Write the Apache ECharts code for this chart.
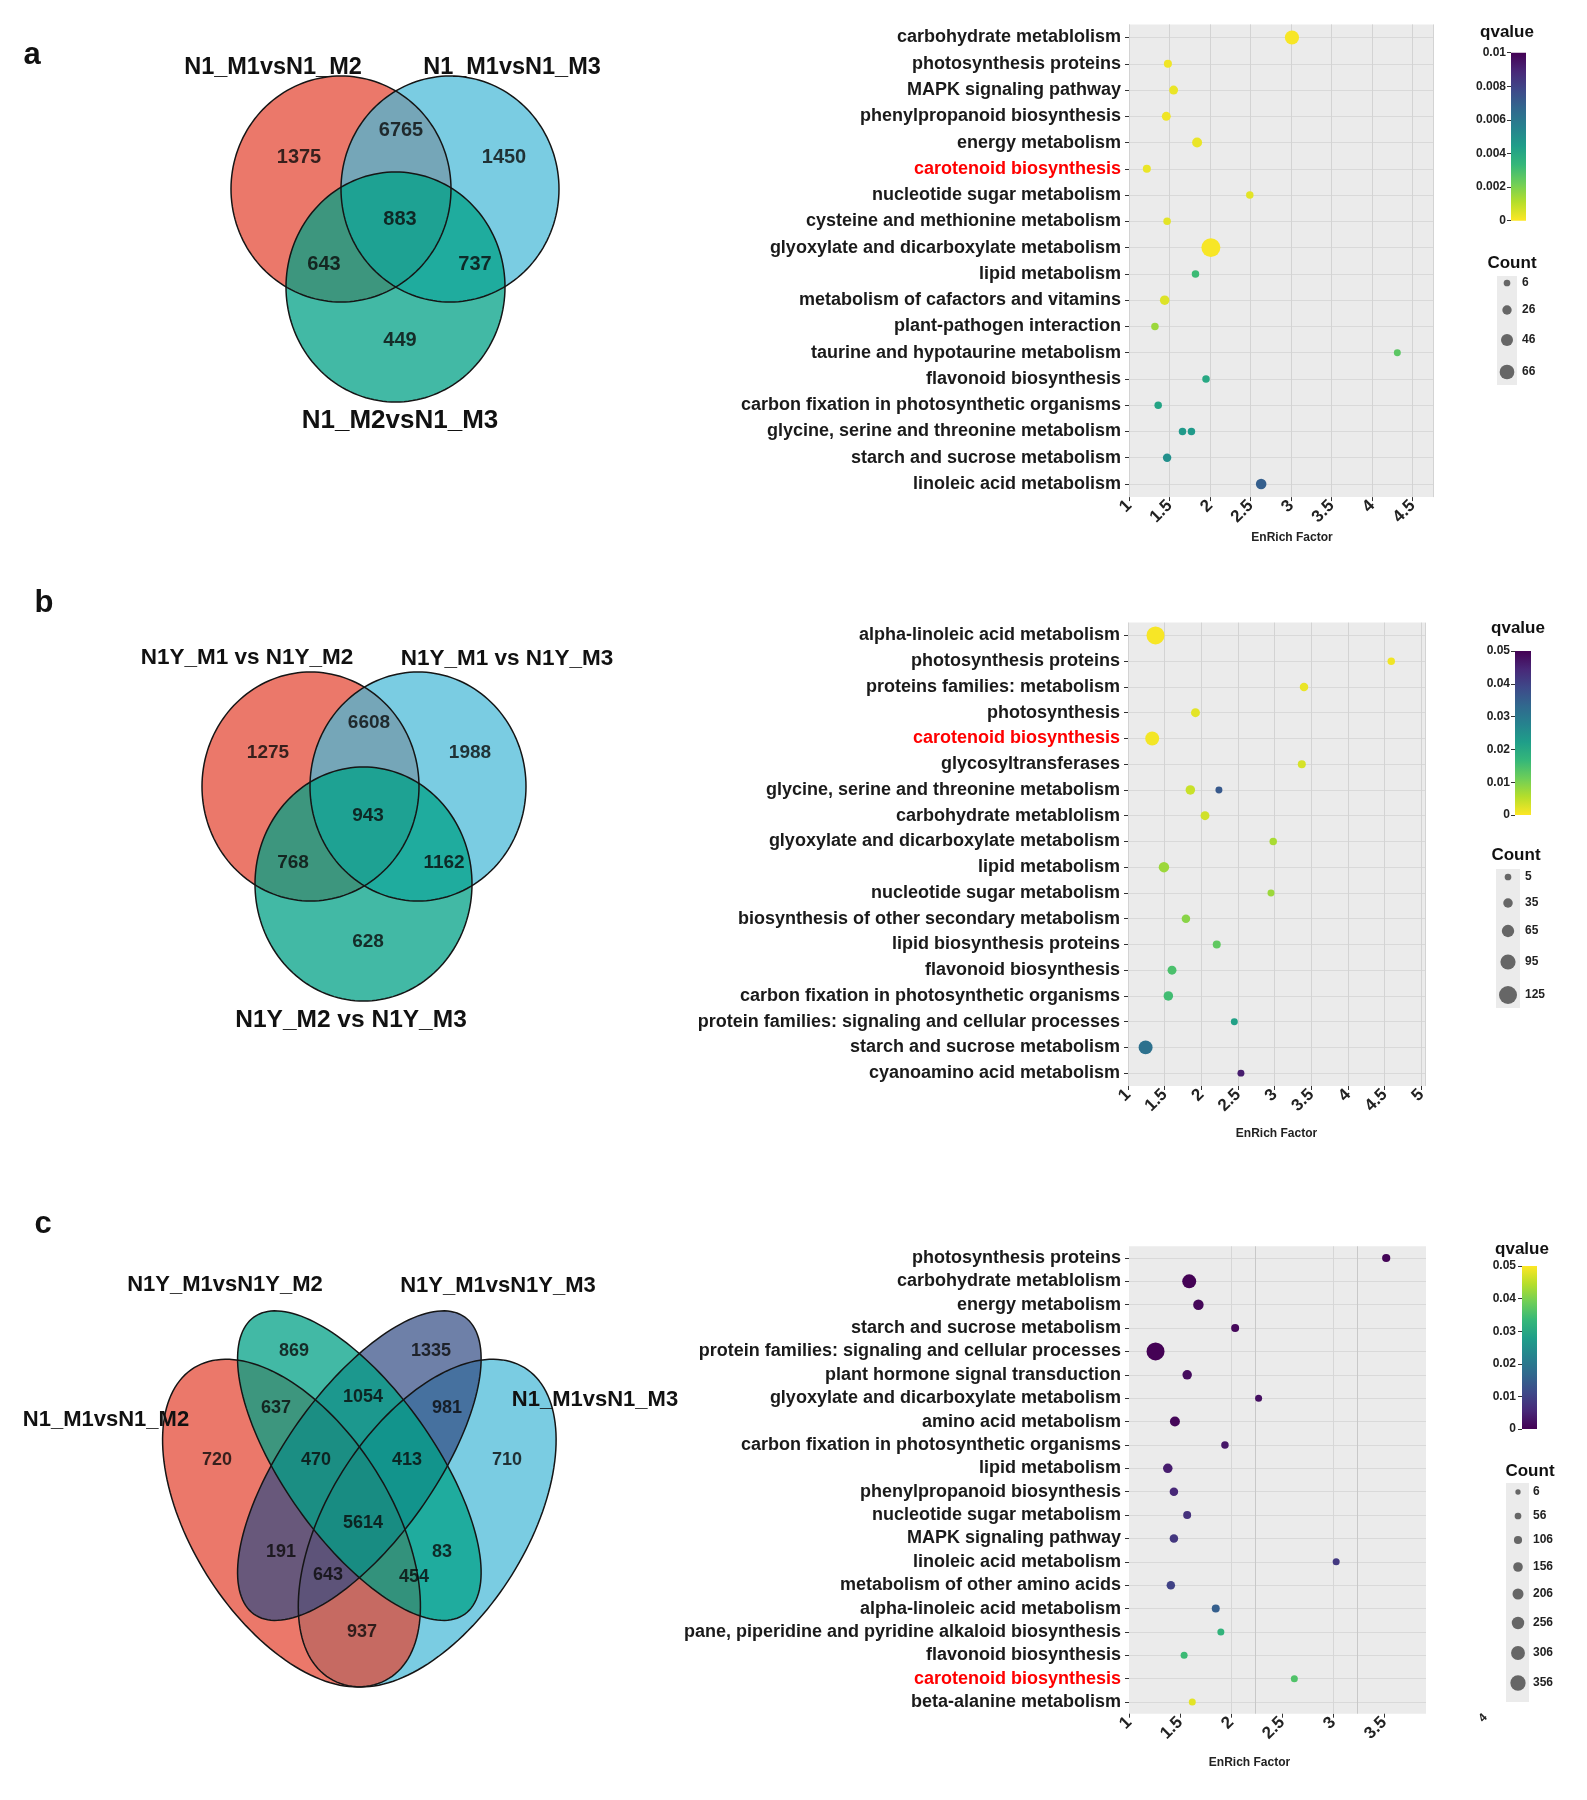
<!DOCTYPE html>
<html><head><meta charset="utf-8">
<script src="https://cdn.jsdelivr.net/npm/echarts@6/dist/echarts.min.js"></script>
<style>html,body{margin:0;padding:0;background:#fff}#c{width:1587px;height:1800px}</style>
</head><body><div id="c"></div>
<script>
// ================= DATA =================
// Venn a
const vennASets = ['N1_M1vsN1_M2', 'N1_M1vsN1_M3', 'N1_M2vsN1_M3'];
const vennACounts = [1375, 6765, 1450, 643, 883, 737, 449];
// Venn b
const vennBSets = ['N1Y_M1 vs N1Y_M2', 'N1Y_M1 vs N1Y_M3', 'N1Y_M2 vs N1Y_M3'];
const vennBCounts = [1275, 6608, 1988, 768, 943, 1162, 628];
// Venn c
const vennCSets = ['N1_M1vsN1_M2', 'N1Y_M1vsN1Y_M2', 'N1Y_M1vsN1Y_M3', 'N1_M1vsN1_M3'];
const vennCCounts = [720, 869, 1335, 710, 637, 1054, 981, 470, 413, 5614, 191, 83, 643, 454, 937];

// Dot plot a
const aCategories = ['carbohydrate metablolism','photosynthesis proteins','MAPK signaling pathway','phenylpropanoid biosynthesis','energy metabolism','carotenoid biosynthesis','nucleotide sugar metabolism','cysteine and methionine metabolism','glyoxylate and dicarboxylate metabolism','lipid metabolism','metabolism of cafactors and vitamins','plant-pathogen interaction','taurine and hypotaurine metabolism','flavonoid biosynthesis','carbon fixation in photosynthetic organisms','glycine, serine and threonine metabolism','starch and sucrose metabolism','linoleic acid metabolism'];
const aPointCategory = ['carbohydrate metablolism','photosynthesis proteins','MAPK signaling pathway','phenylpropanoid biosynthesis','energy metabolism','carotenoid biosynthesis','nucleotide sugar metabolism','cysteine and methionine metabolism','glyoxylate and dicarboxylate metabolism','lipid metabolism','metabolism of cafactors and vitamins','plant-pathogen interaction','taurine and hypotaurine metabolism','flavonoid biosynthesis','carbon fixation in photosynthetic organisms','glycine, serine and threonine metabolism','glycine, serine and threonine metabolism','starch and sucrose metabolism','linoleic acid metabolism'];
const aEnrichFactor = [3.01, 1.48, 1.55, 1.46, 1.84, 1.22, 2.49, 1.47, 2.01, 1.82, 1.44, 1.32, 4.31, 1.95, 1.36, 1.66, 1.77, 1.47, 2.63];
const aCount = [62, 16, 23, 23, 31, 16, 12, 12, 98, 12, 27, 12, 8, 12, 12, 12, 12, 19, 35];
const aQvalue = [0.0001, 0.0002, 0.0003, 0.0002, 0.0003, 0.0003, 0.0004, 0.0004, 0.0001, 0.0032, 0.0005, 0.0015, 0.0026, 0.0040, 0.0042, 0.0046, 0.0046, 0.0050, 0.0070];
const aCountBreaks = [6, 26, 46, 66];

// Dot plot b
const bCategories = ['alpha-linoleic acid metabolism','photosynthesis proteins','proteins families: metabolism','photosynthesis','carotenoid biosynthesis','glycosyltransferases','glycine, serine and threonine metabolism','carbohydrate metablolism','glyoxylate and dicarboxylate metabolism','lipid metabolism','nucleotide sugar metabolism','biosynthesis of other secondary metabolism','lipid biosynthesis proteins','flavonoid biosynthesis','carbon fixation in photosynthetic organisms','protein families: signaling and cellular processes','starch and sucrose metabolism','cyanoamino acid metabolism'];
const bPointCategory = ['alpha-linoleic acid metabolism','photosynthesis proteins','proteins families: metabolism','photosynthesis','carotenoid biosynthesis','glycosyltransferases','glycine, serine and threonine metabolism','glycine, serine and threonine metabolism','carbohydrate metablolism','glyoxylate and dicarboxylate metabolism','lipid metabolism','nucleotide sugar metabolism','biosynthesis of other secondary metabolism','lipid biosynthesis proteins','flavonoid biosynthesis','carbon fixation in photosynthetic organisms','protein families: signaling and cellular processes','starch and sucrose metabolism','cyanoamino acid metabolism'];
const bEnrichFactor = [1.375, 4.59, 3.40, 1.92, 1.33, 3.37, 1.85, 2.24, 2.05, 2.98, 1.49, 2.95, 1.79, 2.21, 1.60, 1.55, 2.45, 1.24, 2.54];
const bCount = [125, 13, 24, 29, 82, 19, 35, 8, 29, 13, 45, 8, 24, 19, 29, 35, 8, 82, 8];
const bQvalue = [0.0005, 0.001, 0.0015, 0.002, 0.0008, 0.003, 0.004, 0.036, 0.0035, 0.0065, 0.0075, 0.0075, 0.009, 0.0125, 0.0145, 0.0155, 0.0215, 0.0315, 0.046];
const bCountBreaks = [5, 35, 65, 95, 125];

// Dot plot c
const cCategories = ['photosynthesis proteins','carbohydrate metablolism','energy metabolism','starch and sucrose metabolism','protein families: signaling and cellular processes','plant hormone signal transduction','glyoxylate and dicarboxylate metabolism','amino acid metabolism','carbon fixation in photosynthetic organisms','lipid metabolism','phenylpropanoid biosynthesis','nucleotide sugar metabolism','MAPK signaling pathway','linoleic acid metabolism','metabolism of other amino acids','alpha-linoleic acid metabolism','pane, piperidine and pyridine alkaloid biosynthesis','flavonoid biosynthesis','carotenoid biosynthesis','beta-alanine metabolism'];
const cPointCategory = cCategories.slice();
const cEnrichFactor = [3.52, 1.59, 1.68, 2.04, 1.26, 1.57, 2.27, 1.45, 1.94, 1.38, 1.44, 1.57, 1.44, 3.03, 1.41, 1.85, 1.90, 1.54, 2.62, 1.62];
const cCount = [108, 310, 188, 100, 450, 153, 66, 170, 83, 153, 118, 100, 118, 66, 118, 100, 66, 66, 66, 66];
const cQvalue = [0.0005, 0.0002, 0.0008, 0.001, 0.0001, 0.0015, 0.002, 0.0008, 0.003, 0.004, 0.0055, 0.007, 0.008, 0.0085, 0.010, 0.015, 0.0325, 0.034, 0.036, 0.048];
const cCountBreaks = [6, 56, 106, 156, 206, 256, 306, 356];

// ================= STYLE / LAYOUT =================
const FONT = 'Liberation Sans, Arial, Helvetica, sans-serif';
const VIRIDIS = ['#440154','#482878','#3e4989','#31688e','#26828e','#1f9e89','#35b779','#6ece58','#b5de2b','#fde725'];
const RED = 'rgba(227,68,48,0.72)', BLUE = 'rgba(70,184,215,0.72)', GREEN = 'rgba(0,161,134,0.74)', PURPLE = 'rgba(48,74,131,0.70)';

function cMap(u, v) { return [133.2 + 452.3 * u, 1311 + (0.839 - v) * 574.8]; }
const vennShapes = [
  // panel a
  {cx: 341, cy: 189, a: 110, b: 113, rot: 0, fill: RED},
  {cx: 450, cy: 189, a: 109, b: 113, rot: 0, fill: BLUE},
  {cx: 395.5, cy: 287, a: 109.5, b: 115, rot: 0, fill: GREEN},
  // panel b
  {cx: 310.5, cy: 786.5, a: 108.5, b: 114.5, rot: 0, fill: RED},
  {cx: 418, cy: 786.5, a: 108, b: 114.5, rot: 0, fill: BLUE},
  {cx: 363.5, cy: 884, a: 108.5, b: 117, rot: 0, fill: GREEN},
  // panel c (unit space)
  {cx: 0.65, cy: 0.47, a: 0.35, b: 0.20, rot: 45, fill: BLUE, unit: true},
  {cx: 0.35, cy: 0.47, a: 0.35, b: 0.20, rot: 135, fill: RED, unit: true},
  {cx: 0.50, cy: 0.57, a: 0.35, b: 0.15, rot: 45, fill: PURPLE, unit: true},
  {cx: 0.50, cy: 0.57, a: 0.35, b: 0.15, rot: 135, fill: GREEN, unit: true}
];
const vennAPos = [[299,157],[401,130],[504,157],[324,264],[400,219],[475,264],[400,340]];
const vennBPos = [[268,753],[369,723],[470,753],[293,863],[368,816],[444,863],[368,942]];
const vennCPos = [[217,1460],[294,1351],[431,1351],[507,1460],[276,1408],[363,1397],[447,1408],[316,1460],[407,1460],[363,1523],[281,1552],[442,1552],[328,1575],[414,1577],[362,1632]];
const vennASetPos = [[273,68],[512,68],[400,421]];
const vennBSetPos = [[247,658],[507,659],[351,1020]];
const vennCSetPos = [[106,1420],[225,1285],[498,1286],[595,1400]];
const vennASetSize = [23.5, 23.5, 26];
const vennBSetSize = [22.5, 22.5, 24.5];
const vennCSetSize = [22, 22, 22, 22];

function sizeScale(breaks, dMin, dMax) {
  const c0 = breaks[0], c1 = breaks[breaks.length - 1];
  return c => dMin + (c - c0) * (dMax - dMin) / (c1 - c0);
}
const sizeA = sizeScale(aCountBreaks, 6.7, 14.7);
const sizeB = sizeScale(bCountBreaks, 6.7, 18);
const sizeC = sizeScale(cCountBreaks, 5.3, 15.3);

const chart = echarts.init(document.getElementById('c'), null, {renderer: 'canvas', width: 1587, height: 1800});

function grad(stops) {
  return new echarts.graphic.LinearGradient(0, 0, 0, 1, stops.map((c, i) => ({offset: i / (stops.length - 1), color: c})));
}

function dotX(gi, xMax, nameGap, namePad, splitX) {
  return {gridIndex: gi, type: 'value', min: 1, max: xMax, interval: 0.5,
    axisLine: {show: false},
    axisTick: {show: true, length: 4, lineStyle: {color: '#333'}},
    axisLabel: {rotate: 45, fontSize: 17, fontWeight: 'bold', color: '#222', fontFamily: FONT, margin: 6, showMaxLabel: false},
    splitLine: {show: splitX, lineStyle: {color: '#d3d3d3', width: 1}},
    name: 'EnRich Factor', nameLocation: 'middle', nameGap: nameGap,
    nameTextStyle: {fontSize: 12, fontWeight: 'bold', color: '#222', fontFamily: FONT, padding: namePad}};
}
function dotY(gi, cats) {
  return {gridIndex: gi, type: 'category', data: cats, inverse: true,
    axisLine: {show: false},
    axisTick: {show: true, alignWithLabel: true, interval: 0, length: 4, lineStyle: {color: '#333'}},
    axisLabel: {interval: 0, fontSize: 18, fontWeight: 'bold', fontFamily: FONT, margin: 8,
      color: v => v === 'carotenoid biosynthesis' ? '#ff0000' : '#1a1a1a'},
    splitLine: {show: true, alignWithLabel: true, interval: 0, lineStyle: {color: '#d9d9d9', width: 1}}};
}
function qY(gi, max, interval, margin) {
  return {gridIndex: gi, type: 'value', min: 0, max: max, interval: interval, position: 'left',
    axisLine: {show: false}, splitLine: {show: false},
    axisTick: {show: true, length: 4, lineStyle: {color: '#333'}},
    axisLabel: {fontSize: 12, fontWeight: 'bold', color: '#222', fontFamily: FONT, margin: margin}};
}
function hiddenX(gi) { return {gridIndex: gi, type: 'value', min: 0, max: 1, show: false}; }

function txt(x, y, text, size, weight, align, color, rot) {
  return {type: 'text', x: x, y: y, rotation: rot || 0, silent: true, z: 100,
    style: {text: text, fontSize: size, fontWeight: weight, fontFamily: FONT, fill: color || '#111',
      align: align || 'center', verticalAlign: 'middle', textAlign: align || 'center', textVerticalAlign: 'middle'}};
}
function countKey(box, cx, cys, breaks, sizeFn, labelX) {
  const els = [{type: 'rect', shape: {x: box[0], y: box[1], width: box[2], height: box[3]}, style: {fill: '#ebebeb'}, silent: true, z: 90}];
  breaks.forEach((b, i) => {
    els.push({type: 'circle', shape: {cx: cx, cy: cys[i], r: sizeFn(b) / 2}, style: {fill: '#666666'}, silent: true, z: 95});
    els.push(txt(labelX, cys[i], String(b), 12, 'bold', 'left', '#222'));
  });
  return els;
}

const graphics = [
  txt(32, 55, 'a', 31, 'bold'), txt(44, 603, 'b', 31, 'bold'), txt(43, 1224, 'c', 31, 'bold'),
  ...vennASets.map((s, i) => txt(vennASetPos[i][0], vennASetPos[i][1], s, vennASetSize[i], 'bold')),
  ...vennBSets.map((s, i) => txt(vennBSetPos[i][0], vennBSetPos[i][1], s, vennBSetSize[i], 'bold')),
  ...vennCSets.map((s, i) => txt(vennCSetPos[i][0], vennCSetPos[i][1], s, vennCSetSize[i], 'bold')),
  txt(1507, 32, 'qvalue', 17, 'bold'), txt(1512, 263, 'Count', 17, 'bold'),
  txt(1518, 628, 'qvalue', 17, 'bold'), txt(1516, 855, 'Count', 17, 'bold'),
  txt(1522, 1249, 'qvalue', 17, 'bold'), txt(1530, 1471, 'Count', 17, 'bold'),
  txt(1483, 1718, '4', 12, 'bold', 'center', '#222', Math.PI / 4),
  ...countKey([1497, 276, 20, 109], 1507, [283, 310, 340, 372], aCountBreaks, sizeA, 1522),
  ...countKey([1496, 869, 24, 139], 1508, [877, 903, 931, 962, 995], bCountBreaks, sizeB, 1525),
  ...countKey([1506, 1483, 23, 219], 1518, [1492, 1516, 1540, 1567, 1594, 1623, 1653, 1683], cCountBreaks, sizeC, 1533)
];

function vennLabelSeries(pos, counts, size, weight) {
  return {type: 'scatter', xAxisIndex: 0, yAxisIndex: 0, silent: true, z: 5,
    data: pos.map((p, i) => [p[0], p[1], counts[i]]), symbolSize: 1,
    itemStyle: {color: 'rgba(0,0,0,0)'},
    label: {show: true, position: 'inside', formatter: p => String(p.value[2]), fontSize: size, fontWeight: weight, color: '#0a0a0a', fontFamily: FONT}};
}
function dotSeries(gi, cats, xs, counts, qs, sizeFn, extra) {
  return Object.assign({type: 'scatter', xAxisIndex: gi, yAxisIndex: gi, silent: true, z: 3,
    data: cats.map((c, i) => [xs[i], c, counts[i], qs[i]]),
    symbolSize: v => sizeFn(v[2]), itemStyle: {opacity: 1}}, extra || {});
}

const option = {
  animation: false,
  backgroundColor: '#ffffff',
  grid: [
    {left: 0, top: 0, width: 1587, height: 1800, show: false},
    {left: 1129, top: 24.4, width: 304, height: 472.7, show: true, backgroundColor: '#ebebeb', borderWidth: 0},
    {left: 1128, top: 622.6, width: 297, height: 463.4, show: true, backgroundColor: '#ebebeb', borderWidth: 0},
    {left: 1129, top: 1246.3, width: 297, height: 467.4, show: true, backgroundColor: '#ebebeb', borderWidth: 0},
    {left: 1511, top: 52.7, width: 15, height: 168, show: true, borderWidth: 0, backgroundColor: grad(VIRIDIS)},
    {left: 1515, top: 651, width: 16, height: 164, show: true, borderWidth: 0, backgroundColor: grad(VIRIDIS)},
    {left: 1522, top: 1266, width: 15, height: 163, show: true, borderWidth: 0, backgroundColor: grad(VIRIDIS.slice().reverse())}
  ],
  xAxis: [
    {gridIndex: 0, type: 'value', min: 0, max: 1587, show: false},
    dotX(1, 4.75, 35, [0, 0, 0, 22], true),
    dotX(2, 5.05, 42, [0, 0, 0, 0], true),
    dotX(3, 3.91, 43, [0, 56, 0, 0], false),
    hiddenX(4), hiddenX(5), hiddenX(6)
  ],
  yAxis: [
    {gridIndex: 0, type: 'value', min: 0, max: 1800, inverse: true, show: false},
    dotY(1, aCategories), dotY(2, bCategories), dotY(3, cCategories),
    qY(4, 0.01, 0.002, 5), qY(5, 0.05, 0.01, 5), qY(6, 0.05, 0.01, 6)
  ],
  visualMap: [
    {type: 'continuous', show: false, seriesIndex: 4, dimension: 3, min: 0, max: 0.01, inRange: {color: VIRIDIS.slice().reverse()}},
    {type: 'continuous', show: false, seriesIndex: 5, dimension: 3, min: 0, max: 0.05, inRange: {color: VIRIDIS.slice().reverse()}},
    {type: 'continuous', show: false, seriesIndex: 6, dimension: 3, min: 0, max: 0.05, inRange: {color: VIRIDIS.slice()}}
  ],
  series: [
    {type: 'custom', xAxisIndex: 0, yAxisIndex: 0, silent: true, z: 1,
      data: vennShapes.map((s, i) => [i, 0]).concat(vennShapes.map((s, i) => [i, 1])),
      renderItem: function (params, api) {
        const s = vennShapes[api.value(0)], pass = api.value(1);
        const r = s.rot * Math.PI / 180, pts = [];
        for (let k = 0; k < 160; k++) {
          const t = k / 160 * 2 * Math.PI;
          const ex = s.a * Math.cos(t), ey = s.b * Math.sin(t);
          let X, Y;
          if (s.unit) {
            const u = s.cx + ex * Math.cos(r) - ey * Math.sin(r);
            const v = s.cy + ex * Math.sin(r) + ey * Math.cos(r);
            [X, Y] = cMap(u, v);
          } else { X = s.cx + ex; Y = s.cy + ey; }
          pts.push(api.coord([X, Y]));
        }
        return {type: 'polygon', shape: {points: pts},
          style: pass === 0 ? {fill: s.fill, stroke: 'rgba(0,0,0,0)', lineWidth: 0}
                            : {fill: 'rgba(0,0,0,0)', stroke: '#151515', lineWidth: 1.5}};
      }},
    vennLabelSeries(vennAPos, vennACounts, 20, 'bold'),
    vennLabelSeries(vennBPos, vennBCounts, 19, 'bold'),
    vennLabelSeries(vennCPos, vennCCounts, 18, 'bold'),
    dotSeries(1, aPointCategory, aEnrichFactor, aCount, aQvalue, sizeA),
    dotSeries(2, bPointCategory, bEnrichFactor, bCount, bQvalue, sizeB),
    dotSeries(3, cPointCategory, cEnrichFactor, cCount, cQvalue, sizeC, {
      markLine: {silent: true, symbol: 'none', label: {show: false}, z: 1,
        lineStyle: {color: '#d6d6d6', type: 'solid', width: 1},
        data: [{xAxis: 2}, {xAxis: 2.24, lineStyle: {color: '#c8c8c8', type: 'solid'}}, {xAxis: 3}, {xAxis: 3.24, lineStyle: {color: '#c8c8c8', type: 'solid'}}]}})
  ],
  graphic: graphics
};
chart.setOption(option);
</script></body></html>
